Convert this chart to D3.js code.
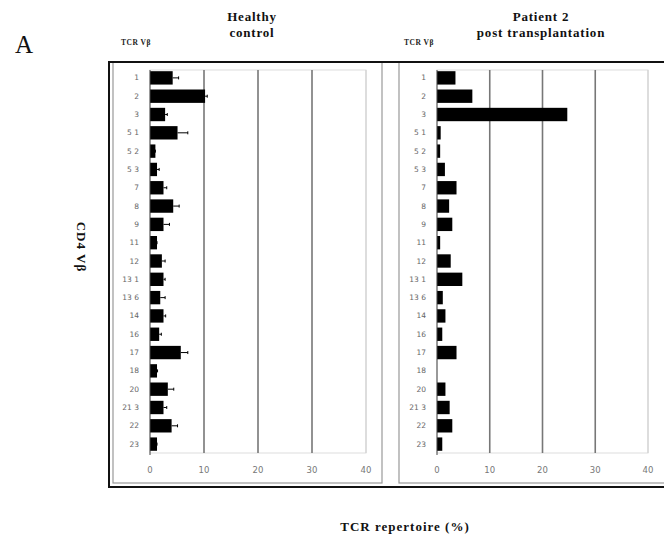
<!DOCTYPE html>
<html>
<head>
<meta charset="utf-8">
<script src="https://cdn.jsdelivr.net/npm/d3@7"></script>
<style>
  body { margin: 0; background: #fff; }
  svg text { font-family: "Liberation Serif", "DejaVu Serif", serif; }
</style>
</head>
<body>
<script>
// TCR V beta families, read top to bottom
const families = ["1", "2", "3", "5.1", "5.2", "5.3", "7", "8", "9", "11", "12", "13.1", "13.6", "14", "16", "17", "18", "20", "21.3", "22", "23"];
// healthy control mean and upper error (%)
const controlMean = [4.2, 10.2, 2.8, 5.1, 1.0, 1.3, 2.5, 4.3, 2.5, 1.3, 2.2, 2.5, 1.9, 2.5, 1.7, 5.7, 1.3, 3.3, 2.5, 4.0, 1.3];
const controlErr  = [5.3, 10.6, 3.2, 7.0, 1.0, 1.7, 3.1, 5.4, 3.6, 1.3, 2.8, 2.8, 2.8, 2.9, 2.1, 7.0, 1.4, 4.4, 3.1, 5.1, 1.3];
// patient 2 post transplantation (%)
const patientVals = [3.5, 6.7, 24.7, 0.7, 0.6, 1.5, 3.7, 2.3, 2.9, 0.6, 2.6, 4.8, 1.1, 1.6, 1.0, 3.7, 0, 1.6, 2.4, 2.9, 1.0];
const xTicks = [0, 10, 20, 30, 40];

const W = 664, H = 540;
let svg;

const panels = [
  { title: ["Healthy", "control"], cx: 252, x0: 150, x1: 366, labelX: 139, headX: 121,
    values: controlMean, errs: controlErr, box: [113, 382] },
  { title: ["Patient 2", "post transplantation"], cx: 541, x0: 437, x1: 648, labelX: 426, headX: 404,
    values: patientVals, errs: null, box: [399, 670] }
];

const init = () => {
  svg = d3.select("body").append("svg").attr("width", W).attr("height", H);
  createFrame();
  panels.forEach(createPanel);
  createLabels();
};

const createFrame = () => {
  panels.forEach(p => {
    svg.append("rect")
      .attr("x", p.box[0]).attr("y", 62)
      .attr("width", p.box[1] - p.box[0]).attr("height", 421)
      .attr("fill", "none").attr("stroke", "#999").attr("stroke-width", 1.2);
  });
  svg.append("rect")
    .attr("x", 109).attr("y", 62)
    .attr("width", 600).attr("height", 425)
    .attr("fill", "none").attr("stroke", "#111").attr("stroke-width", 2);
};

const createPanel = (p) => {
  const x = d3.scaleLinear().domain([0, 40]).range([p.x0, p.x1]);
  const y = d3.scaleBand().domain(families).range([69, 453]).paddingInner(0.27).paddingOuter(0.12);
  const g = svg.append("g");

  // plot box
  g.append("rect")
    .attr("x", x(0)).attr("y", 70)
    .attr("width", x(40) - x(0)).attr("height", 383)
    .attr("fill", "none").attr("stroke", "#ddd").attr("stroke-width", 1);

  g.selectAll(".grid")
    .data(xTicks.slice(1))
    .join("line")
    .attr("x1", d => x(d)).attr("x2", d => x(d))
    .attr("y1", 70).attr("y2", 453)
    .attr("stroke", d => d === 40 ? "#ccc" : "#777")
    .attr("stroke-width", d => d === 40 ? 1 : 1.6);

  g.selectAll(".xlab")
    .data(xTicks)
    .join("text")
    .attr("x", d => x(d)).attr("y", 473)
    .attr("text-anchor", "middle")
    .style("font-family", "'DejaVu Sans', sans-serif")
    .style("font-size", "8.5px")
    .attr("fill", "#777")
    .text(d => d);

  g.selectAll(".bar")
    .data(families)
    .join("rect")
    .attr("x", x(0))
    .attr("y", d => y(d))
    .attr("width", (d, i) => x(p.values[i]) - x(0))
    .attr("height", y.bandwidth())
    .attr("fill", "#000");

  if (p.errs) {
    const eb = g.selectAll(".err")
      .data(families)
      .join("g");
    eb.append("line")
      .attr("x1", (d, i) => x(p.values[i])).attr("x2", (d, i) => x(p.errs[i]))
      .attr("y1", d => y(d) + y.bandwidth() / 2).attr("y2", d => y(d) + y.bandwidth() / 2)
      .attr("stroke", "#000").attr("stroke-width", 1);
    eb.append("line")
      .attr("x1", (d, i) => x(p.errs[i])).attr("x2", (d, i) => x(p.errs[i]))
      .attr("y1", d => y(d) + y.bandwidth() / 2 - 1.5).attr("y2", d => y(d) + y.bandwidth() / 2 + 1.5)
      .attr("stroke", "#000").attr("stroke-width", 1);
  }

  // zero axis
  g.append("line")
    .attr("x1", x(0)).attr("x2", x(0))
    .attr("y1", 70).attr("y2", 455)
    .attr("stroke", "#444").attr("stroke-width", 1);

  g.selectAll(".ylab")
    .data(families)
    .join("text")
    .attr("x", p.labelX)
    .attr("y", d => y(d) + y.bandwidth() / 2 + 2.5)
    .attr("text-anchor", "end")
    .style("font-family", "'DejaVu Sans', sans-serif")
    .style("font-size", "7.5px")
    .attr("fill", "#666")
    .text(d => d.replace(".", " "));

  g.append("text")
    .attr("x", p.headX).attr("y", 45)
    .style("font-size", "7.5px")
    .style("font-weight", "bold")
    .style("letter-spacing", "0.5px")
    .attr("fill", "#222")
    .text("TCR Vβ");

  g.append("text")
    .attr("x", p.cx).attr("y", 21)
    .attr("text-anchor", "middle")
    .style("font-size", "13px")
    .style("font-weight", "bold")
    .style("letter-spacing", "0.8px")
    .attr("fill", "#111")
    .selectAll("tspan")
    .data(p.title)
    .join("tspan")
    .attr("x", p.cx)
    .attr("dy", (d, i) => i === 0 ? 0 : 16)
    .text(d => d);
};

const createLabels = () => {
  svg.append("text")
    .attr("x", 15).attr("y", 53)
    .style("font-size", "25px")
    .attr("fill", "#111")
    .text("A");

  svg.append("text")
    .attr("transform", "translate(77, 247) rotate(90)")
    .attr("text-anchor", "middle")
    .style("font-size", "13px")
    .style("font-weight", "bold")
    .style("letter-spacing", "1px")
    .attr("fill", "#111")
    .text("CD4 Vβ");

  svg.append("text")
    .attr("x", 405).attr("y", 531)
    .attr("text-anchor", "middle")
    .style("font-size", "13px")
    .style("font-weight", "bold")
    .style("letter-spacing", "1px")
    .attr("fill", "#111")
    .text("TCR repertoire (%)");
};

init();
</script>
</body>
</html>
